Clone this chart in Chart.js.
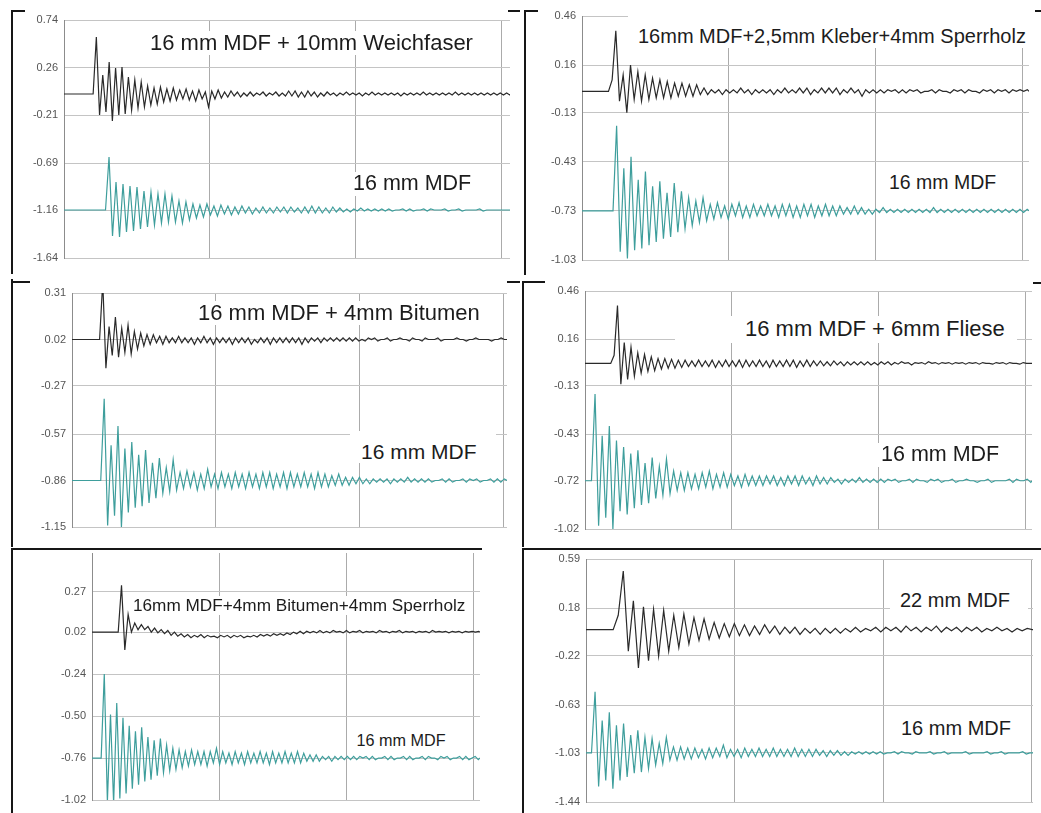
<!DOCTYPE html>
<html>
<head>
<meta charset="utf-8">
<script src="https://cdn.jsdelivr.net/npm/chart.js@4.4.1/dist/chart.umd.min.js"></script>
<style>
  html, body { margin: 0; padding: 0; background: #fff; }
  body { width: 1041px; height: 813px; position: relative; overflow: hidden;
         font-family: "Liberation Sans", Arial, sans-serif; }
  .panel { position: absolute; }
  .rule { position: absolute; background: #161616; }
  .lbl { position: absolute; white-space: nowrap; line-height: 1; color: #1c1c1c; background: #fff; }
</style>
</head>
<body>
<script>
// ---------------------------------------------------------------------------
// Decay measurements: impulse response of each panel build-up (black) and of
// the plain 16 mm MDF panel (teal), plotted with a vertical offset.
// Time axis: one grid division per unit.
// ---------------------------------------------------------------------------

const TITLES = [
  "16 mm MDF + 10mm Weichfaser",
  "16mm MDF+2,5mm Kleber+4mm Sperrholz",
  "16 mm MDF + 4mm Bitumen",
  "16 mm MDF + 6mm Fliese",
  "16mm MDF+4mm Bitumen+4mm Sperrholz",
  "22 mm MDF"
];
const BASE_SAMPLE = "16 mm MDF";

// y-axis tick values per panel (top to bottom)
const Y_TICKS_1 = [0.74, 0.26, -0.21, -0.69, -1.16, -1.64];
const Y_TICKS_2 = [0.46, 0.16, -0.13, -0.43, -0.73, -1.03];
const Y_TICKS_3 = [0.31, 0.02, -0.27, -0.57, -0.86, -1.15];
const Y_TICKS_4 = [0.46, 0.16, -0.13, -0.43, -0.72, -1.02];
const Y_TICKS_5 = [0.27, 0.02, -0.24, -0.50, -0.76, -1.02];
const Y_TICKS_6 = [0.59, 0.18, -0.22, -0.63, -1.03, -1.44];
const Y_TICKS = [Y_TICKS_1, Y_TICKS_2, Y_TICKS_3, Y_TICKS_4, Y_TICKS_5, Y_TICKS_6];

// upper end of each y axis and right end of each time axis
const Y_TOP = [0.74, 0.46, 0.31, 0.46, 0.51, 0.59];
const X_END = [3.061, 3.041, 3.027, 3.041, 3.05, 3.01];
const X_GRID = [0, 1, 2, 3];

// rest level (display offset) of every trace
const BASE_BLACK = [0, 0, 0.02, 0.01, 0.02, 0];
const BASE_TEAL = [-1.16, -0.73, -0.86, -0.72, -0.76, -1.03];

// trace start and spacing of successive extremes (half period)
const ONSET_BLACK = [0.20, 0.18, 0.192, 0.175, 0.206, 0.183];
const STEP_BLACK = [0.022, 0.025, 0.022, 0.023, 0.026, 0.034];
const ONSET_TEAL = [0.285, 0.211, 0.20, 0.044, 0.072, 0.037];
const STEP_TEAL = [0.024, 0.0245, 0.024, 0.0243, 0.0245, 0.024];

// successive peak / trough amplitudes, relative to the rest level
const BLACK_1 = [
  0.57,-0.21,0.19,-0.18,0.32,-0.27,0.26,-0.21,0.27,-0.20,0.17,-0.16,0.14,-0.14,0.12,-0.13,0.08,-0.11,0.06,-0.10,
  0.07,-0.08,0.05,-0.07,0.06,-0.06,0.04,-0.05,0.05,-0.06,0.03,-0.07,0.04,-0.05,0.02,-0.13,0.03,-0.05,0.04,-0.04,
  0.02,-0.03,0.03,-0.02,0.02,-0.03,0.01,-0.02,0.02,-0.02,0.01,-0.01,0.02,-0.02,0.01,-0.01,0.02,-0.02,0.01,-0.02,
  0.03,-0.02,0.03,-0.03,0.02,-0.03,0.03,-0.02,0.02,-0.03,0.01,-0.02,0.02,-0.01,0.01,-0.02,0.01,-0.01,0.02,-0.01,
  0.01,-0.01,0.01,-0.02,0.01,-0.01,0.02,-0.01,0.01,-0.01,0.01,-0.01,0.01,-0.01,0.01,-0.02,0.01,-0.01,0.01,-0.01,
  0.01,-0.01,0.02,-0.01,0.01,-0.01,0.01,-0.01,0.01,-0.01,0.01,-0.01,0.02,-0.01,0.01,-0.01,0.01,-0.01,0.01,-0.01,
  0.01,-0.01,0.01,-0.01,0.01,-0.01,0.01,-0.01,0.01,-0.01
];
const TEAL_1 = [
  0.53,-0.26,0.28,-0.27,0.26,-0.22,0.24,-0.21,0.23,-0.19,0.19,-0.17,0.18,-0.15,0.16,-0.13,0.16,-0.12,0.14,-0.12,
  0.09,-0.13,0.08,-0.10,0.06,-0.08,0.05,-0.07,0.06,-0.05,0.04,-0.06,0.05,-0.04,0.04,-0.05,0.03,-0.04,0.04,-0.03,
  0.03,-0.04,0.02,-0.03,0.03,-0.03,0.02,-0.03,0.03,-0.02,0.03,-0.03,0.03,-0.02,0.02,-0.03,0.03,-0.03,0.04,-0.03,
  0.03,-0.03,0.02,-0.03,0.03,-0.02,0.02,-0.02,0.01,-0.02,0.01,-0.01,0.02,-0.01,0.01,-0.01,0.01,-0.01,0.01,-0.01,
  0.01,-0.01,0.00,0.00,0.01,-0.01,0.01,-0.01,0.00,0.00,0.01,-0.01,0.01,0.00,0.00,0.00,0.01,-0.01,0.00,0.00,
  0.01,-0.01,0.00,0.00,0.00,0.00,0.01,-0.01,0.00,0.00,0.00,0.00,0.00,0.00,0.00,0.00
];
const BLACK_2 = [
  0.07,0.37,-0.06,0.10,-0.13,0.16,-0.05,0.12,-0.06,0.10,-0.05,0.08,-0.04,0.07,-0.04,0.06,-0.04,0.05,-0.03,0.05,
  -0.03,0.04,-0.03,0.04,-0.02,0.02,-0.02,0.01,-0.01,0.01,-0.02,0.01,-0.01,0.01,-0.01,0.02,-0.01,0.01,-0.02,0.01,
  -0.01,0.01,-0.01,0.01,-0.02,0.01,-0.01,0.02,-0.01,0.01,-0.01,0.02,-0.01,0.02,-0.02,0.01,-0.01,0.02,-0.01,0.02,
  -0.01,0.02,-0.02,0.01,-0.01,0.02,-0.01,0.01,-0.03,0.01,-0.01,0.01,-0.01,0.01,-0.01,0.01,0.00,0.01,-0.01,0.01,
  -0.01,0.01,0.00,0.01,-0.01,0.00,0.00,0.01,-0.01,0.01,0.00,0.00,-0.01,0.01,0.00,0.01,-0.01,0.01,0.00,0.00,
  -0.01,0.01,0.00,0.01,-0.01,0.01,0.00,0.01,-0.01,0.01,0.00,0.01,0.00,0.01
];
const TEAL_2 = [
  0.52,-0.25,0.26,-0.29,0.33,-0.24,0.19,-0.23,0.24,-0.21,0.15,-0.19,0.18,-0.17,0.11,-0.16,0.17,-0.13,0.12,-0.11,
  0.08,-0.09,0.06,-0.07,0.08,-0.06,0.04,-0.05,0.05,-0.04,0.03,-0.05,0.04,-0.03,0.05,-0.04,0.03,-0.04,0.04,-0.03,
  0.03,-0.03,0.04,-0.03,0.03,-0.04,0.04,-0.03,0.04,-0.04,0.03,-0.04,0.04,-0.03,0.04,-0.04,0.03,-0.03,0.04,-0.03,
  0.03,-0.03,0.03,-0.02,0.02,-0.02,0.03,-0.02,0.02,-0.02,0.01,-0.02,0.01,-0.01,0.02,-0.01,0.01,-0.01,0.01,-0.01,
  0.01,-0.01,0.01,-0.01,0.01,-0.01,0.01,-0.01,0.02,-0.01,0.01,-0.01,0.01,-0.01,0.01,-0.01,0.01,-0.01,0.01,-0.01,
  0.01,-0.01,0.01,-0.01,0.01,-0.01,0.01,-0.01,0.01,-0.01,0.01,-0.01,0.01,-0.01,0.01
];
const BLACK_3 = [
  0.36,-0.18,0.08,-0.10,0.14,-0.11,0.07,-0.08,0.09,-0.09,0.05,-0.06,0.04,-0.04,0.03,-0.03,0.03,-0.02,0.02,
  -0.03,0.02,-0.02,0.01,-0.02,0.02,-0.02,0.01,-0.02,0.01,-0.03,0.01,-0.02,0.02,-0.02,0.01,-0.03,0.01,-0.02,0.01,
  -0.02,0.01,-0.03,0.01,-0.02,0.01,-0.02,0.01,-0.03,0.00,-0.02,0.01,-0.02,0.01,-0.03,0.01,-0.02,0.01,-0.02,0.01,
  -0.02,0.01,-0.02,0.01,-0.03,0.01,-0.02,0.01,-0.01,0.01,-0.02,0.01,-0.01,0.01,-0.01,0.01,-0.01,0.01,-0.01,0.01,
  -0.01,0.01,-0.01,0.00,-0.01,0.01,0.00,0.01,-0.01,0.00,0.00,0.01,-0.01,0.00,0.00,0.01,0.00,0.00,-0.01,0.01,
  0.00,0.00,-0.01,0.01,0.00,0.00,0.00,0.01,-0.01,0.00,0.00,0.00,0.00,0.01,0.00,0.00,-0.01,0.00,0.00,0.01,
  0.00,0.00,0.00,0.00,-0.01,0.00,0.00,0.01,0.00,0.00
];
const TEAL_3 = [
  0.51,-0.28,0.22,-0.22,0.34,-0.29,0.20,-0.20,0.24,-0.17,0.16,-0.16,0.19,-0.14,0.11,-0.11,0.14,-0.08,0.08,-0.07,
  0.13,-0.06,0.05,-0.05,0.06,-0.04,0.05,-0.06,0.04,-0.05,0.07,-0.04,0.04,-0.05,0.05,-0.04,0.04,-0.05,0.05,-0.04,
  0.04,-0.05,0.05,-0.04,0.04,-0.05,0.05,-0.04,0.05,-0.05,0.04,-0.04,0.05,-0.05,0.05,-0.04,0.04,-0.04,0.05,-0.04,
  0.04,-0.05,0.05,-0.04,0.04,-0.04,0.03,-0.03,0.04,-0.03,0.02,-0.03,0.02,-0.02,0.02,-0.02,0.01,-0.02,0.01,-0.01,
  0.01,-0.01,0.01,-0.02,0.01,-0.01,0.01,-0.01,0.02,-0.01,0.01,-0.01,0.01,-0.01,0.01,-0.01,0.00,0.00,0.01,-0.01,
  0.01,-0.01,0.00,0.00,0.01,-0.01,0.01,0.00,0.01,-0.01,0.00,0.00,0.01,-0.01,0.01,-0.01,0.01,0.00
];
const BLACK_4 = [
  0.05,0.36,-0.13,0.13,-0.10,0.10,-0.08,0.065,-0.06,0.055,-0.05,0.04,-0.045,0.03,-0.035,0.03,-0.03,0.025,-0.03,0.02,
  -0.025,0.02,-0.02,0.015,-0.02,0.02,-0.02,0.015,-0.02,0.02,-0.025,0.015,-0.02,0.02,-0.02,0.015,-0.02,0.02,-0.025,0.02,
  -0.02,0.015,-0.02,0.02,-0.02,0.015,-0.025,0.02,-0.02,0.015,-0.02,0.02,-0.02,0.02,-0.025,0.015,-0.02,0.02,-0.02,0.015,
  -0.015,0.015,-0.015,0.01,-0.015,0.015,-0.01,0.01,-0.015,0.01,-0.01,0.01,-0.01,0.01,-0.01,0.01,-0.01,0.005,-0.01,0.01,
  -0.005,0.01,-0.01,0.005,-0.005,0.01,0.00,0.005,-0.01,0.005,0.00,0.005,-0.005,0.01,0.00,0.005,-0.005,0.005,0.00,0.005,
  -0.005,0.005,0.00,0.005,-0.005,0.005,0.00,0.005,-0.005,0.005,0.00,0.00,-0.005,0.005,0.00,0.005,-0.005,0.005,0.00,0.00,
  -0.005,0.005,0.00,0.00
];
const TEAL_4 = [
  0.54,-0.28,0.28,-0.23,0.34,-0.30,0.25,-0.19,0.21,-0.21,0.17,-0.17,0.19,-0.15,0.11,-0.14,0.145,-0.11,0.09,-0.09,
  0.135,-0.08,0.06,-0.06,0.05,-0.06,0.05,-0.05,0.04,-0.05,0.05,-0.04,0.06,-0.05,0.04,-0.04,0.05,-0.04,0.04,-0.03,
  0.03,-0.04,0.04,-0.03,0.03,-0.03,0.03,-0.03,0.03,-0.02,0.03,-0.03,0.02,-0.03,0.03,-0.02,0.03,-0.03,0.03,-0.02,
  0.02,-0.03,0.03,-0.02,0.02,-0.02,0.02,-0.01,0.01,-0.02,0.01,-0.01,0.01,-0.01,0.02,-0.01,0.01,-0.01,0.01,-0.01,
  0.01,-0.01,0.01,0.00,0.01,-0.01,0.00,0.00,0.01,-0.01,0.01,0.00,0.00,-0.01,0.01,0.00,0.01,-0.01,0.00,0.00,
  0.01,-0.01,0.00,0.00,0.01,0.00,0.00,-0.01,0.00,0.00,0.01,-0.01,0.00,0.00,0.00,0.00,0.01,-0.01,0.01,0.00,
  0.00,0.01,-0.01
];
const BLACK_5 = [
  0.29,-0.11,0.11,0.00,0.056,0.015,0.046,0.015,0.035,0.00,0.025,-0.005,0.015,-0.01,0.01,-0.02,0.00,-0.025,-0.01,
  -0.03,-0.015,-0.035,-0.02,-0.03,-0.015,-0.035,-0.02,-0.03,-0.025,-0.035,-0.02,-0.03,-0.02,-0.035,-0.02,-0.03,-0.02,-0.035,-0.025,
  -0.03,-0.02,-0.03,-0.015,-0.025,-0.015,-0.025,-0.01,-0.02,-0.01,-0.02,-0.005,-0.015,0.00,-0.01,0.005,-0.01,0.005,-0.005,0.005,
  -0.005,0.01,-0.005,0.005,-0.005,0.01,0.00,0.005,-0.005,0.01,-0.005,0.005,0.00,0.01,-0.005,0.005,0.00,0.005,-0.005,0.01,
  0.00,0.005,-0.005,0.005,0.00,0.01,-0.005,0.005,0.00,0.005,-0.005,0.005,0.00,0.005,-0.005,0.01,0.00,0.005,0.00,0.005,
  -0.005,0.005,0.00,0.005,-0.005,0.005,0.00,0.005,0.00,0.005
];
const TEAL_5 = [
  0.52,-0.27,0.27,-0.28,0.34,-0.25,0.25,-0.22,0.20,-0.19,0.165,-0.165,0.19,-0.145,0.13,-0.135,0.11,-0.11,0.12,-0.09,
  0.08,-0.08,0.06,-0.07,0.05,-0.06,0.04,-0.05,0.05,-0.04,0.04,-0.04,0.04,-0.05,0.04,-0.03,0.06,-0.04,0.04,-0.03,
  0.03,-0.04,0.04,-0.03,0.03,-0.04,0.04,-0.03,0.03,-0.03,0.04,-0.03,0.03,-0.04,0.04,-0.03,0.03,-0.03,0.04,-0.03,
  0.03,-0.03,0.04,-0.03,0.03,-0.02,0.02,-0.02,0.02,-0.02,0.01,-0.01,0.01,-0.02,0.01,-0.01,0.01,-0.01,0.01,-0.01,
  0.01,-0.01,0.01,0.00,0.01,-0.01,0.01,-0.01,0.00,0.00,0.01,-0.01,0.01,-0.01,0.00,0.00,0.01,-0.01,0.01,-0.01,
  0.00,0.00,0.01,-0.01,0.01,0.00,0.00,-0.01,0.01,0.00,0.01,-0.01,0.00,0.00,0.01,-0.01,0.01,-0.01,0.00,0.01,
  -0.01
];
const BLACK_6 = [
  0.12,0.49,-0.18,0.24,-0.32,0.19,-0.26,0.17,-0.22,0.16,-0.18,0.12,-0.15,0.13,-0.12,0.10,-0.09,0.09,-0.08,0.06,
  -0.07,0.05,-0.06,0.05,-0.05,0.04,-0.05,0.03,-0.04,0.04,-0.03,0.03,-0.04,0.02,-0.03,0.02,-0.04,0.01,-0.03,0.01,
  -0.04,0.01,-0.03,0.01,-0.03,0.01,-0.02,0.02,-0.02,0.01,-0.01,0.02,-0.02,0.02,-0.01,0.02,-0.02,0.03,-0.01,0.02,
  -0.02,0.02,-0.01,0.03,-0.02,0.02,-0.01,0.02,-0.02,0.02,-0.01,0.02,-0.02,0.01,-0.01,0.02,-0.01,0.01,-0.02,0.01,
  -0.01,0.01
];
const TEAL_6 = [
  0.51,-0.28,0.27,-0.23,0.34,-0.30,0.23,-0.23,0.245,-0.20,0.15,-0.17,0.19,-0.16,0.13,-0.13,0.12,-0.10,0.08,-0.09,
  0.13,-0.06,0.05,-0.06,0.05,-0.05,0.04,-0.05,0.04,-0.04,0.03,-0.05,0.04,-0.04,0.04,-0.03,0.065,-0.04,0.03,-0.03,
  0.03,-0.04,0.04,-0.03,0.03,-0.03,0.04,-0.03,0.03,-0.03,0.04,-0.03,0.03,-0.03,0.03,-0.03,0.04,-0.03,0.03,-0.03,
  0.03,-0.03,0.03,-0.02,0.02,-0.03,0.02,-0.02,0.02,-0.02,0.01,-0.02,0.01,-0.01,0.01,-0.01,0.01,-0.01,0.01,-0.01,
  0.01,-0.01,0.00,0.00,0.01,-0.01,0.01,0.00,0.00,-0.01,0.01,0.00,0.00,0.00,0.01,-0.01,0.00,0.00,0.01,-0.01,
  0.00,0.00,0.00,0.00,0.01,-0.01,0.00,0.00,0.00,0.00,0.01,-0.01,0.00,0.00,0.01,-0.01,0.00,0.00,0.00,0.00,
  0.01,-0.01,0.00,0.00
];
const BLACK = [BLACK_1, BLACK_2, BLACK_3, BLACK_4, BLACK_5, BLACK_6];
const TEAL = [TEAL_1, TEAL_2, TEAL_3, TEAL_4, TEAL_5, TEAL_6];

// ---------------------------------------------------------------------------
// Page layout (pixels)
// ---------------------------------------------------------------------------
const AXIS_W = 60;      // room for the y tick labels
const PAD_V = 16;       // space above/below each plot area
// plot area of each panel: left, top, right, bottom
const PLOT_BOX = [
  [64, 20, 510, 258],
  [582, 16, 1029, 260],
  [72, 293, 507, 527],
  [585, 291, 1032, 529],
  [92, 553, 480, 800],
  [586, 559, 1033, 802]
];
// text boxes: [left, top, font size, padTop, padRight, padBottom, padLeft]
const TITLE_BOX = [
  [150, 32, 22, 1, 3, 1, 3],
  [638, 25.5, 20, 12, 4, 2, 10],
  [198, 302, 22, 1, 3, 1, 3],
  [745, 318, 22, 2, 12, 3, 70],
  [133, 596.5, 17.2, 1, 3, 1, 3],
  [900, 590, 20, 3, 18, 3, 10]
];
const BASE_BOX = [
  [353, 173, 21.5, 1, 3, 1, 3],
  [889, 172.5, 19.5, 11, 20, 2, 11],
  [361, 441, 21, 10, 19, 1, 11],
  [881, 444, 21.5, 1, 3, 1, 3],
  [356.5, 732, 16.2, 1, 3, 1, 3],
  [901, 717.5, 20, 1, 3, 1, 3]
];
// frame rules: [x, y, w, h]
const RULES = [
  [11, 10, 2, 264], [11, 10, 14, 2], [508, 10, 12, 2],
  [524, 10, 2, 265], [524, 10, 14, 2], [1035, 10, 6, 2],
  [11, 279, 2, 268], [11, 281, 19, 2], [507, 281, 13, 2],
  [522, 281, 2, 266], [522, 281, 23, 2], [1033, 282, 8, 2],
  [11, 548, 471, 2], [522, 548, 519, 2],
  [11, 548, 2, 265], [522, 548, 2, 265]
];

const BLACK_COLOR = '#2a2a2a';
const TEAL_COLOR = '#3e9e9c';

function tracePoints(base, onset, step, values, xEnd) {
  const pts = [{ x: 0, y: base }, { x: onset, y: base }];
  values.forEach((v, i) => {
    const t = onset + (i + 1) * step;
    if (t < xEnd) pts.push({ x: t, y: base + v });
  });
  const tail = onset + (values.length + 1) * step;
  if (tail < xEnd) pts.push({ x: tail, y: base });
  pts.push({ x: xEnd, y: base });
  return pts;
}

function addText(text, box) {
  const [left, top, size, pt, pr, pb, pl] = box;
  const d = document.createElement('div');
  d.className = 'lbl';
  d.textContent = text;
  d.style.left = (left - pl) + 'px';
  d.style.top = (top - pt) + 'px';
  d.style.fontSize = size + 'px';
  d.style.padding = `${pt}px ${pr}px ${pb}px ${pl}px`;
  document.body.appendChild(d);
}

for (let p = 0; p < 6; p++) {
  const [l, t, r, b] = PLOT_BOX[p];
  const w = AXIS_W + (r - l) + 2;
  const h = (b - t) + 2 * PAD_V;
  const wrap = document.createElement('div');
  wrap.className = 'panel';
  wrap.style.left = (l - AXIS_W) + 'px';
  wrap.style.top = (t - PAD_V) + 'px';
  wrap.style.width = w + 'px';
  wrap.style.height = h + 'px';
  const cv = document.createElement('canvas');
  cv.width = w; cv.height = h;
  cv.style.width = w + 'px'; cv.style.height = h + 'px';
  wrap.appendChild(cv);
  document.body.appendChild(wrap);

  const ticks = Y_TICKS[p];
  const xEnd = X_END[p];

  new Chart(cv, {
    type: 'line',
    data: {
      datasets: [
        {
          label: TITLES[p],
          data: tracePoints(BASE_BLACK[p], ONSET_BLACK[p], STEP_BLACK[p], BLACK[p], xEnd),
          borderColor: BLACK_COLOR, borderWidth: 1.2, pointRadius: 0, tension: 0
        },
        {
          label: BASE_SAMPLE,
          data: tracePoints(BASE_TEAL[p], ONSET_TEAL[p], STEP_TEAL[p], TEAL[p], xEnd),
          borderColor: TEAL_COLOR, borderWidth: 1.2, pointRadius: 0, tension: 0
        }
      ]
    },
    options: {
      responsive: false,
      animation: false,
      devicePixelRatio: 1,
      events: [],
      layout: { padding: { top: PAD_V, bottom: PAD_V, left: 0, right: 2 } },
      plugins: { legend: { display: false }, tooltip: { enabled: false } },
      scales: {
        x: {
          type: 'linear', min: 0, max: xEnd,
          afterBuildTicks: s => { s.ticks = X_GRID.map(v => ({ value: v })); },
          afterFit: s => { s.height = 0; },
          ticks: { display: false },
          grid: { color: '#ababab', drawTicks: false, lineWidth: 1 },
          border: { display: false }
        },
        y: {
          type: 'linear', min: ticks[ticks.length - 1], max: Y_TOP[p],
          afterBuildTicks: s => { s.ticks = ticks.map(v => ({ value: v })); },
          afterFit: s => { s.width = AXIS_W; },
          ticks: {
            callback: v => v.toFixed(2),
            font: { family: 'Liberation Sans', size: 11 },
            color: '#555', padding: 6, autoSkip: false
          },
          grid: { color: '#c4c4c4', drawTicks: false, lineWidth: 1 },
          border: { display: true, color: '#8c8c8c' }
        }
      }
    }
  });

  addText(TITLES[p], TITLE_BOX[p]);
  addText(BASE_SAMPLE, BASE_BOX[p]);
}

RULES.forEach(([x, y, w, h]) => {
  const d = document.createElement('div');
  d.className = 'rule';
  d.style.left = x + 'px'; d.style.top = y + 'px';
  d.style.width = w + 'px'; d.style.height = h + 'px';
  document.body.appendChild(d);
});
</script>
</body>
</html>
